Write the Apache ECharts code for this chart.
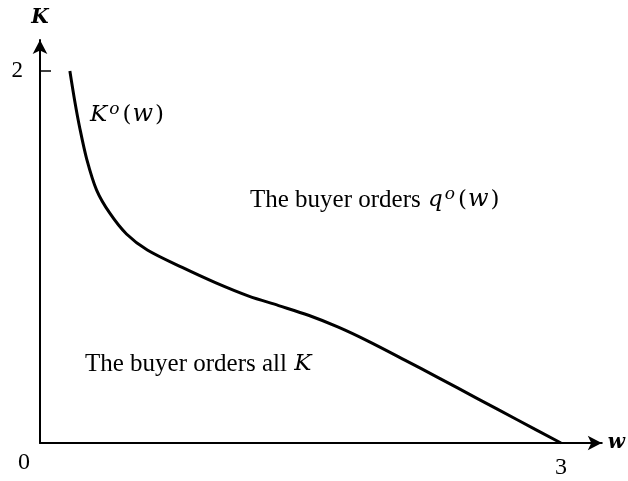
<!DOCTYPE html>
<html>
<head>
<meta charset="utf-8">
<script src="https://cdn.jsdelivr.net/npm/echarts@6/dist/echarts.min.js"></script>
<style>
  html, body { margin: 0; padding: 0; background: #fff; }
  #chart { width: 628px; height: 481px; }
</style>
</head>
<body>
<div id="chart"></div>
<script>
// Threshold curve K°(w): wholesale price w against capacity K
const wValues = [0.172, 0.200, 0.229, 0.269, 0.326, 0.401, 0.498, 0.618, 0.819, 1.013, 1.202, 1.374, 1.546, 1.718, 1.889, 2.101, 2.290, 2.519, 2.748, 3.0];
const kValues = [2.0, 1.839, 1.694, 1.527, 1.360, 1.237, 1.124, 1.038, 0.944, 0.861, 0.790, 0.739, 0.687, 0.623, 0.548, 0.446, 0.353, 0.239, 0.125, 0];
const xTicks = [3];
const yTicks = [2];

const serif = '"Liberation Serif", "Times New Roman", serif';
const mathFont = '"DejaVu Serif", serif';
const curve = wValues.map((w, i) => [w, kValues[i]]);

// rich styles shared by the math labels
const mathRich = {
  n: { fontFamily: serif, fontSize: 25, fill: '#000' },
  i: { fontFamily: mathFont, fontStyle: 'italic', fontSize: 23, fill: '#000', padding: [0, 1, 0, 1] },
  w: { fontFamily: mathFont, fontStyle: 'italic', fontSize: 24, fill: '#000', padding: [0, 1, 0, 1] },
  p: { fontFamily: mathFont, fontSize: 23, fill: '#000', padding: [0, 0, 0, 1] },
  s: { fontFamily: mathFont, fontStyle: 'italic', fontSize: 17, fill: '#000', verticalAlign: 'top', padding: [0, 2, 11, 1] }
};

const chart = echarts.init(document.getElementById('chart'));
chart.setOption({
  animation: false,
  backgroundColor: '#fff',
  grid: { left: 40, right: 23, top: 40, bottom: 38, containLabel: false },
  xAxis: {
    type: 'value', min: 0, max: 3.235,
    name: 'w', nameLocation: 'end', nameGap: 6,
    nameTextStyle: { fontFamily: mathFont, fontStyle: 'italic', fontWeight: 'bold', fontSize: 20, color: '#000', verticalAlign: 'middle' },
    axisLine: { show: true, lineStyle: { color: '#000', width: 2 }, symbol: ['none', 'arrow'], symbolSize: [11, 14] },
    axisTick: { show: false },
    splitLine: { show: false },
    axisLabel: { customValues: xTicks, fontFamily: serif, fontSize: 24, color: '#000', margin: 13 }
  },
  yAxis: {
    type: 'value', min: 0, max: 2.167,
    name: 'K', nameLocation: 'end', nameGap: 12,
    nameTextStyle: { fontFamily: mathFont, fontStyle: 'italic', fontWeight: 'bold', fontSize: 20, color: '#000', align: 'center' },
    axisLine: { show: true, lineStyle: { color: '#000', width: 2 }, symbol: ['none', 'arrow'], symbolSize: [11, 14] },
    axisTick: { show: true, customValues: yTicks, inside: true, length: 11, lineStyle: { color: '#000', width: 1.5 } },
    splitLine: { show: false },
    axisLabel: { customValues: yTicks, fontFamily: serif, fontSize: 23, color: '#000', margin: 17 }
  },
  series: [{
    type: 'line',
    data: curve,
    smooth: 0.3,
    showSymbol: false,
    lineStyle: { color: '#000', width: 3 }
  }],
  graphic: [
    { type: 'text', left: 18, top: 451, style: { text: '0', font: '24px ' + serif, fill: '#000' } },
    { type: 'text', left: 90, top: 101, style: { text: '{i|K}{s|o}{p|(}{w|w}{p|)}', rich: mathRich } },
    { type: 'text', left: 250, top: 186, style: { text: '{n|The buyer orders }{i|q}{s|o}{p|(}{w|w}{p|)}', rich: mathRich } },
    { type: 'text', left: 85, top: 352, style: { text: '{n|The buyer orders all }{i|K}', rich: mathRich } }
  ]
});
</script>
</body>
</html>
